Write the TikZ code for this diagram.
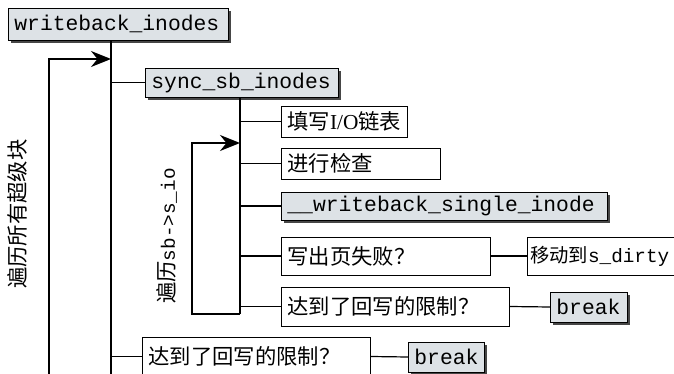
\documentclass[tikz,border=0pt]{standalone}
\usepackage{fontspec}
\setmainfont{Liberation Serif}
\setmonofont{Liberation Mono}
\newfontfamily\zhfont{Noto Sans CJK SC}
\definecolor{boxgray}{RGB}{221,226,230}
\definecolor{shadegray}{RGB}{70,70,70}
\usetikzlibrary{arrows.meta,positioning,shadows}

\begin{document}
\begin{tikzpicture}[x=0.75pt,y=-0.75pt,
    box/.style={draw=black,line width=0.6pt,anchor=west,align=left,
                inner xsep=4.5pt,inner ysep=0pt,
                font=\fontsize{16}{19}\selectfont},
    whtbox/.style={box,fill=white},
    grybox/.style={box,fill=boxgray,
                   general shadow={fill=shadegray,shadow xshift=2.25pt,shadow yshift=-2.25pt}},
    lbl/.style={rotate=90,font=\fontsize{16}{19}\selectfont},
    link/.style={line width=0.9pt},
    loopln/.style={line width=1.6pt},
    arr/.style={loopln,-{Stealth[length=15pt,width=12pt]}}
  ]
  \useasboundingbox (0,0) rectangle (674,374);
  \clip (0,0) rectangle (674,374);
  % Outer level
  \node[grybox,text width=156pt,minimum height=24pt] (wbi) at (8,24) {\texttt{writeback\_inodes}};
  \node[grybox,text width=135.75pt,minimum height=21.75pt] (ssi) at (145,82.5) {\texttt{sync\_sb\_inodes}};
  \node[whtbox,text width=162pt,minimum height=29.25pt] (lim1) at (142,356.5) {\zhfont 达到了回写的限制？};
  \node[grybox,text width=48pt,minimum height=22.5pt] (brkA) at (408,357) {\texttt{break}};
  % Inner level
  \node[whtbox,text width=85.5pt,minimum height=23.25pt] (fill) at (281,121.5) {{\zhfont 填写}I/O{\zhfont 链表}};
  \node[whtbox,text width=110.25pt,minimum height=23.25pt] (check) at (281,163.5) {\zhfont 进行检查};
  \node[grybox,text width=235.5pt,minimum height=21pt] (wsi) at (281,206) {\texttt{\_\_writeback\_single\_inode}};
  \node[whtbox,text width=147.75pt,minimum height=28.5pt] (fail) at (281,256) {\zhfont 写出页失败？};
  \node[whtbox,text width=108pt,minimum height=28.5pt,inner xsep=2pt,
        font=\fontsize{14.5}{17}\selectfont] (move) at (527,256) {{\zhfont 移动到}\texttt{s\_dirty}};
  \node[whtbox,text width=162pt,minimum height=29.25pt] (lim2) at (281,306.5) {\zhfont 达到了回写的限制？};
  \node[grybox,text width=48.75pt,minimum height=22.5pt] (brkB) at (550,307) {\texttt{break}};
  % Loop labels
  \node[lbl] (lblA) at (17,214) {\zhfont 遍历所有超级块};
  \node[lbl] (lblB) at (167,236) {{\zhfont 遍历}{\fontsize{14.5}{17}\selectfont\texttt{sb->s\_io}}};
  % Outer trunk and loop
  \coordinate (trunkA) at (111,380);
  \coordinate (loopA) at (49,380);
  \coordinate (tipA) at (111,59);
  \draw[link] (wbi.south -| trunkA) -- (trunkA);
  \draw[link] (trunkA |- ssi.west) -- (ssi.west);
  \draw[link] (trunkA |- lim1.west) -- (lim1.west);
  \draw[link] (lim1.east) -- (brkA.west);
  \draw[arr] (loopA) |- (tipA);
  % Inner trunk and loop
  \coordinate (trunkB) at (240,314);
  \coordinate (loopB) at (192,314);
  \coordinate (tipB) at (240,143);
  \draw[loopln] (ssi.south -| trunkB) -- (trunkB);
  \foreach \n in {fill,check,wsi,fail,lim2}
    \draw[link] (trunkB |- \n.west) -- (\n.west);
  \draw[link] (fail.east) -- (move.west);
  \draw[link] (lim2.east) -- (brkB.west);
  \draw[arr] (trunkB) -- (loopB) |- (tipB);
\end{tikzpicture}
\end{document}
